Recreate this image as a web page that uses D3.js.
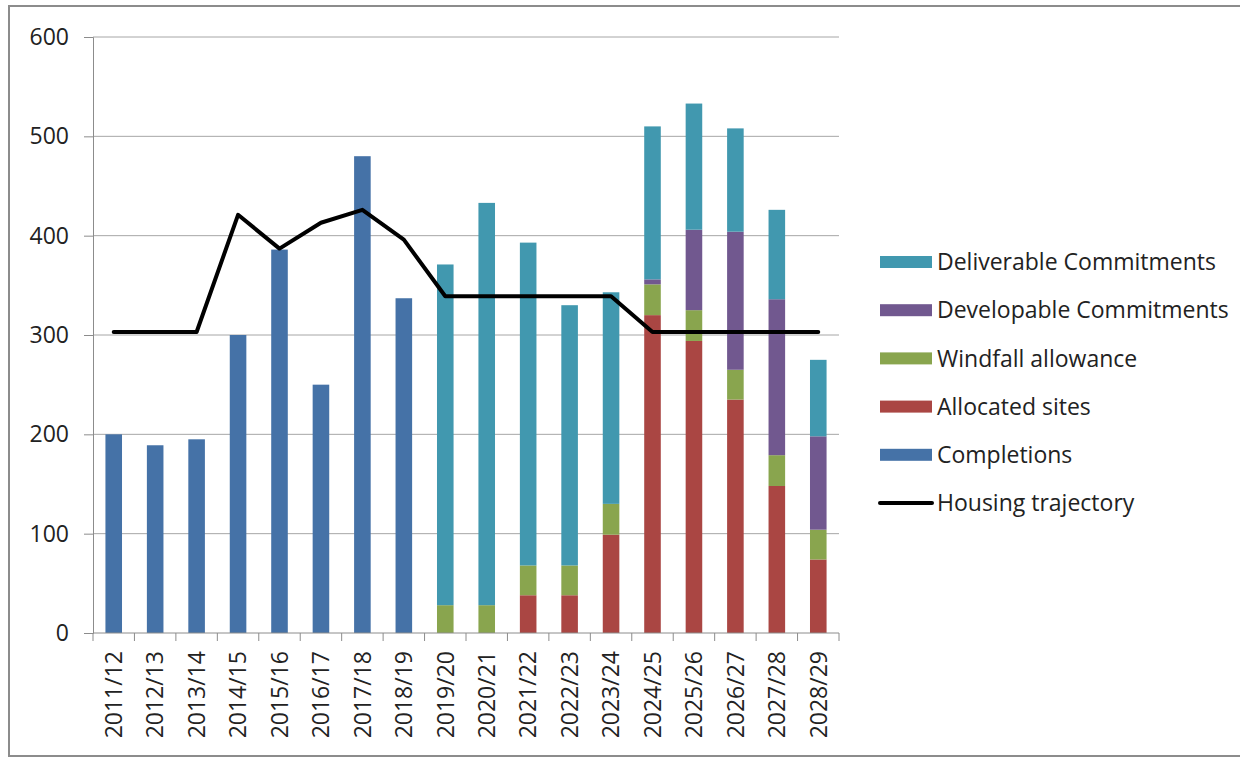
<!DOCTYPE html>
<html>
<head>
<meta charset="UTF-8">
<title>Housing trajectory</title>
<style type="text/css">
  body { margin: 0; background: #fff; }
  svg text { font-family: "Open Sans", sans-serif; fill: #222; }
</style>
</head>
<body>
<svg class="chart"></svg>
<script src="https://cdn.jsdelivr.net/npm/d3@7/dist/d3.min.js"></script>
<script type="text/javascript">
var years = ["2011/12","2012/13","2013/14","2014/15","2015/16","2016/17","2017/18","2018/19","2019/20",
  "2020/21","2021/22","2022/23","2023/24","2024/25","2025/26","2026/27","2027/28","2028/29"];
var completions = [200,189,195,300,386,250,480,337,0,0,0,0,0,0,0,0,0,0];
var allocated   = [0,0,0,0,0,0,0,0,0,0,38,38,99,320,294,235,148,74];
var windfall    = [0,0,0,0,0,0,0,0,28,28,30,30,31,31,31,30,31,30];
var developable = [0,0,0,0,0,0,0,0,0,0,0,0,0,5,81,139,157,94];
var deliverable = [0,0,0,0,0,0,0,0,343,405,325,262,213,154,127,104,90,77];
var trajectory  = [303,303,303,421,387,413,426,396,339,339,339,339,339,303,303,303,303,303];
var yTicks = [0,100,200,300,400,500,600];

var colors = {
  completions: "#4572A7",
  allocated: "#AA4643",
  windfall: "#89A54E",
  developable: "#71588F",
  deliverable: "#4198AF"
};

var W = 1240, H = 760;
var fontSize = 23;
var svg = d3.select(".chart").attr("width", W).attr("height", H);

// outer frame
svg.append("rect")
  .attr("x", 9).attr("y", 6).attr("width", W).attr("height", 750)
  .attr("fill", "none").attr("stroke", "#8c8c8c").attr("stroke-width", 2);

var mLeft = 93, mTop = 37, plotW = 746, plotH = 596;
var x = d3.scaleBand().domain(years).range([mLeft, mLeft + plotW]).paddingInner(0.6).paddingOuter(0.3);
var y = d3.scaleLinear().domain([0, 600]).range([mTop + plotH, mTop]);

// grid
svg.append("g").selectAll("line").data(yTicks.slice(1)).join("line")
  .attr("x1", mLeft).attr("x2", mLeft + plotW)
  .attr("y1", function(d) { return y(d); }).attr("y2", function(d) { return y(d); })
  .attr("stroke", "#a6a6a6").attr("stroke-width", 1);

// y axis
var yAxis = svg.append("g").attr("transform", "translate(" + mLeft + ",0)")
  .call(d3.axisLeft(y).tickValues(yTicks).tickSize(9).tickPadding(15));
yAxis.select(".domain").attr("stroke", "#8c8c8c");
yAxis.selectAll(".tick line").attr("stroke", "#8c8c8c");
yAxis.selectAll("text").attr("font-size", fontSize).attr("font-family", "Open Sans").attr("fill", "#222");

// stacked bars
var rows = years.map(function(yr, i) {
  return { year: yr, allocated: allocated[i], windfall: windfall[i],
    developable: developable[i], deliverable: deliverable[i] };
});
var stack = d3.stack().keys(["allocated","windfall","developable","deliverable"])(rows);

svg.append("g").selectAll("g").data(stack).join("g")
  .attr("fill", function(s) { return colors[s.key]; })
  .selectAll("rect").data(function(s) { return s; }).join("rect")
  .attr("x", function(d) { return x(d.data.year); })
  .attr("width", x.bandwidth())
  .attr("y", function(d) { return y(d[1]); })
  .attr("height", function(d) { return y(d[0]) - y(d[1]); });

svg.append("g").selectAll("rect").data(completions).join("rect")
  .attr("fill", colors.completions)
  .attr("x", function(d, i) { return x(years[i]); })
  .attr("width", x.bandwidth())
  .attr("y", function(d) { return y(d); })
  .attr("height", function(d) { return y(0) - y(d); });

// x axis
var bounds = d3.range(years.length + 1).map(function(i) { return mLeft + i * x.step(); });
var xg = svg.append("g");
xg.append("line").attr("x1", mLeft).attr("x2", mLeft + plotW)
  .attr("y1", y(0)).attr("y2", y(0)).attr("stroke", "#8c8c8c");
xg.selectAll("line.tk").data(bounds).join("line").attr("class", "tk")
  .attr("x1", function(d) { return d; }).attr("x2", function(d) { return d; })
  .attr("y1", y(0)).attr("y2", y(0) + 8).attr("stroke", "#8c8c8c");
xg.selectAll("text").data(years).join("text")
  .attr("transform", function(d) {
    return "translate(" + (x(d) + x.bandwidth() / 2) + "," + (y(0) + 18) + ") rotate(-90)";
  })
  .attr("text-anchor", "end").attr("dy", "0.36em")
  .attr("font-size", fontSize)
  .text(function(d) { return d; });

// trajectory line
var line = d3.line()
  .x(function(d, i) { return x(years[i]) + x.bandwidth() / 2; })
  .y(function(d) { return y(d); });
svg.append("path").datum(trajectory)
  .attr("d", line).attr("fill", "none").attr("stroke", "#000")
  .attr("stroke-width", 4).attr("stroke-linejoin", "round").attr("stroke-linecap", "round");

// legend
var legend = [
  { name: "Deliverable Commitments", key: "deliverable" },
  { name: "Developable Commitments", key: "developable" },
  { name: "Windfall allowance", key: "windfall" },
  { name: "Allocated sites", key: "allocated" },
  { name: "Completions", key: "completions" },
  { name: "Housing trajectory", key: "line" }
];
var lg = svg.append("g").selectAll("g").data(legend).join("g")
  .attr("transform", function(d, i) { return "translate(880," + (262 + i * 48.2) + ")"; });
lg.filter(function(d) { return d.key !== "line"; }).append("rect")
  .attr("x", 0).attr("y", -6).attr("width", 52).attr("height", 12)
  .attr("fill", function(d) { return colors[d.key]; });
lg.filter(function(d) { return d.key === "line"; }).append("line")
  .attr("x1", 0).attr("x2", 52).attr("y1", 0).attr("y2", 0)
  .attr("stroke", "#000").attr("stroke-width", 4).attr("stroke-linecap", "round");
lg.append("text").attr("x", 57).attr("dy", "0.36em").attr("font-size", fontSize)
  .text(function(d) { return d.name; });
</script>
</body>
</html>
